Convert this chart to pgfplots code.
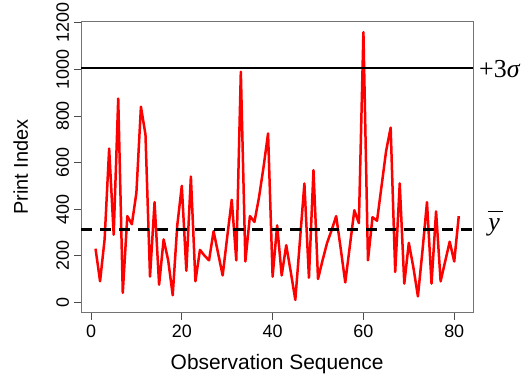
\documentclass[border=0pt]{standalone}
\usepackage{fontspec}
\setmainfont{Liberation Sans}
\newfontfamily\timesfont{Liberation Serif}
\usepackage{pgfplots}
\usepackage{pgfplotstable}
\pgfplotsset{compat=1.18}
\definecolor{boxgray}{RGB}{115,115,115}

\pgfplotstableread{
x y
1 230
2 90
3 270
4 660
5 290
6 875
7 40
8 370
9 335
10 470
11 840
12 720
13 110
14 430
15 75
16 270
17 180
18 30
19 330
20 500
21 135
22 540
23 90
24 225
25 200
26 180
27 305
28 210
29 115
30 280
31 440
32 180
33 990
34 175
35 370
36 345
37 450
38 580
39 725
40 110
41 330
42 115
43 245
44 130
45 10
46 260
47 510
48 105
49 567
50 100
51 180
52 255
53 310
54 370
55 230
56 85
57 240
58 395
59 340
60 1160
61 180
62 365
63 350
64 500
65 650
66 750
67 130
68 510
69 80
70 255
71 150
72 25
73 220
74 430
75 80
76 390
77 90
78 175
79 260
80 175
81 370
}\datatable

\begin{document}
\begin{tikzpicture}
\useasboundingbox (0,0) rectangle (532bp,375bp);
\begin{axis}[
  at={(81bp,62.3bp)}, anchor=south west,
  scale only axis, width=392.3bp, height=291bp,
  xmin=-2.2, xmax=84.2, ymin=-45, ymax=1205,
  xtick={0,20,40,60,80}, ytick={0,200,400,600,800,1000,1200},
  tick align=outside, major tick length=7bp,
  xtick pos=bottom, ytick pos=left,
  axis line style={boxgray, line width=0.9bp},
  every tick/.style={black!70, line width=0.9bp},
  tick label style={font=\fontsize{18}{20}\selectfont},
  /pgf/number format/assume math mode=true,
  /pgf/number format/1000 sep={},
  scaled ticks=false,
  yticklabel style={xshift=-5bp, rotate=90, anchor=base},
  xticklabel style={anchor=north, yshift=-2bp},
  xlabel={Observation Sequence},
  ylabel={Print Index},
  xlabel style={at={(axis description cs:0.5,-0.1935)}, anchor=base, font=\fontsize{21}{24}\selectfont},
  ylabel style={at={(axis description cs:-0.1357,0.5)}, anchor=base, font=\fontsize{20}{24}\selectfont},
]
\addplot[red, line width=2.5bp, line join=round, no markers] table[x=x, y=y] {\datatable};
\addplot[black, line width=2bp, no markers] coordinates {(-2.2,1005) (84.2,1005)};
\addplot[black, line width=2.6bp, dash pattern=on 11bp off 8bp, no markers] coordinates {(-2.2,312) (84.2,312)};
\end{axis}
\node[anchor=base west, inner sep=0, font=\fontsize{26}{30}\selectfont\timesfont] at (479bp,297.7bp) {+3\textit{σ}};
\node[anchor=base, inner sep=0, font=\fontsize{26}{30}\selectfont\timesfont\itshape] at (494bp,144bp) {y};
\draw[black, line width=1.2bp] (487.5bp,163.5bp) -- (502.5bp,163.5bp);
\end{tikzpicture}
\end{document}
